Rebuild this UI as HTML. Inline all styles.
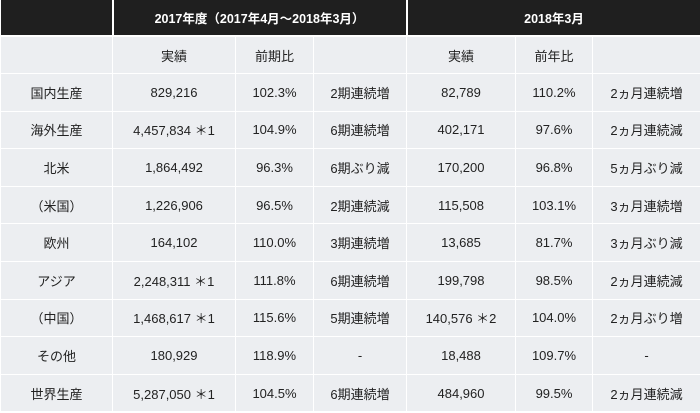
<!DOCTYPE html>
<html><head><meta charset="utf-8"><style>
html,body{margin:0;padding:0;background:#fff;}
body{width:700px;height:413px;overflow:hidden;font-family:"Liberation Sans","Noto Sans CJK JP",sans-serif;}
table{border-collapse:collapse;table-layout:fixed;width:700px;}
td,th{font-size:13px;color:#222;text-align:center;padding:0;border:1px solid #fff;background:#eceef1;height:36.6px;white-space:nowrap;}
th{background:#1f1f1f;color:#fff;font-weight:bold;font-size:12.5px;border:2px solid #fff;border-top:none;height:35px;}
th:first-child{border-left:none;}th:last-child{border-right:none;}
tr.sub td{height:36px;}
</style></head><body>
<table>
<colgroup><col style="width:112px"><col style="width:123px"><col style="width:78px"><col style="width:93px"><col style="width:109px"><col style="width:77px"><col style="width:108px"></colgroup>
<tr><th></th><th colspan="3">2017年度（2017年4月～2018年3月）</th><th colspan="3">2018年3月</th></tr>
<tr class="sub"><td></td><td>実績</td><td>前期比</td><td></td><td>実績</td><td>前年比</td><td></td></tr>
<tr><td>国内生産</td><td>829,216</td><td>102.3%</td><td>2期連続増</td><td>82,789</td><td>110.2%</td><td>2ヵ月連続増</td></tr>
<tr><td>海外生産</td><td>4,457,834 ＊1</td><td>104.9%</td><td>6期連続増</td><td>402,171</td><td>97.6%</td><td>2ヵ月連続減</td></tr>
<tr><td>北米</td><td>1,864,492</td><td>96.3%</td><td>6期ぶり減</td><td>170,200</td><td>96.8%</td><td>5ヵ月ぶり減</td></tr>
<tr><td>（米国）</td><td>1,226,906</td><td>96.5%</td><td>2期連続減</td><td>115,508</td><td>103.1%</td><td>3ヵ月連続増</td></tr>
<tr><td>欧州</td><td>164,102</td><td>110.0%</td><td>3期連続増</td><td>13,685</td><td>81.7%</td><td>3ヵ月ぶり減</td></tr>
<tr><td>アジア</td><td>2,248,311 ＊1</td><td>111.8%</td><td>6期連続増</td><td>199,798</td><td>98.5%</td><td>2ヵ月連続減</td></tr>
<tr><td>（中国）</td><td>1,468,617 ＊1</td><td>115.6%</td><td>5期連続増</td><td>140,576 ＊2</td><td>104.0%</td><td>2ヵ月ぶり増</td></tr>
<tr><td>その他</td><td>180,929</td><td>118.9%</td><td>-</td><td>18,488</td><td>109.7%</td><td>-</td></tr>
<tr><td>世界生産</td><td>5,287,050 ＊1</td><td>104.5%</td><td>6期連続増</td><td>484,960</td><td>99.5%</td><td>2ヵ月連続減</td></tr>
</table>
</body></html>
